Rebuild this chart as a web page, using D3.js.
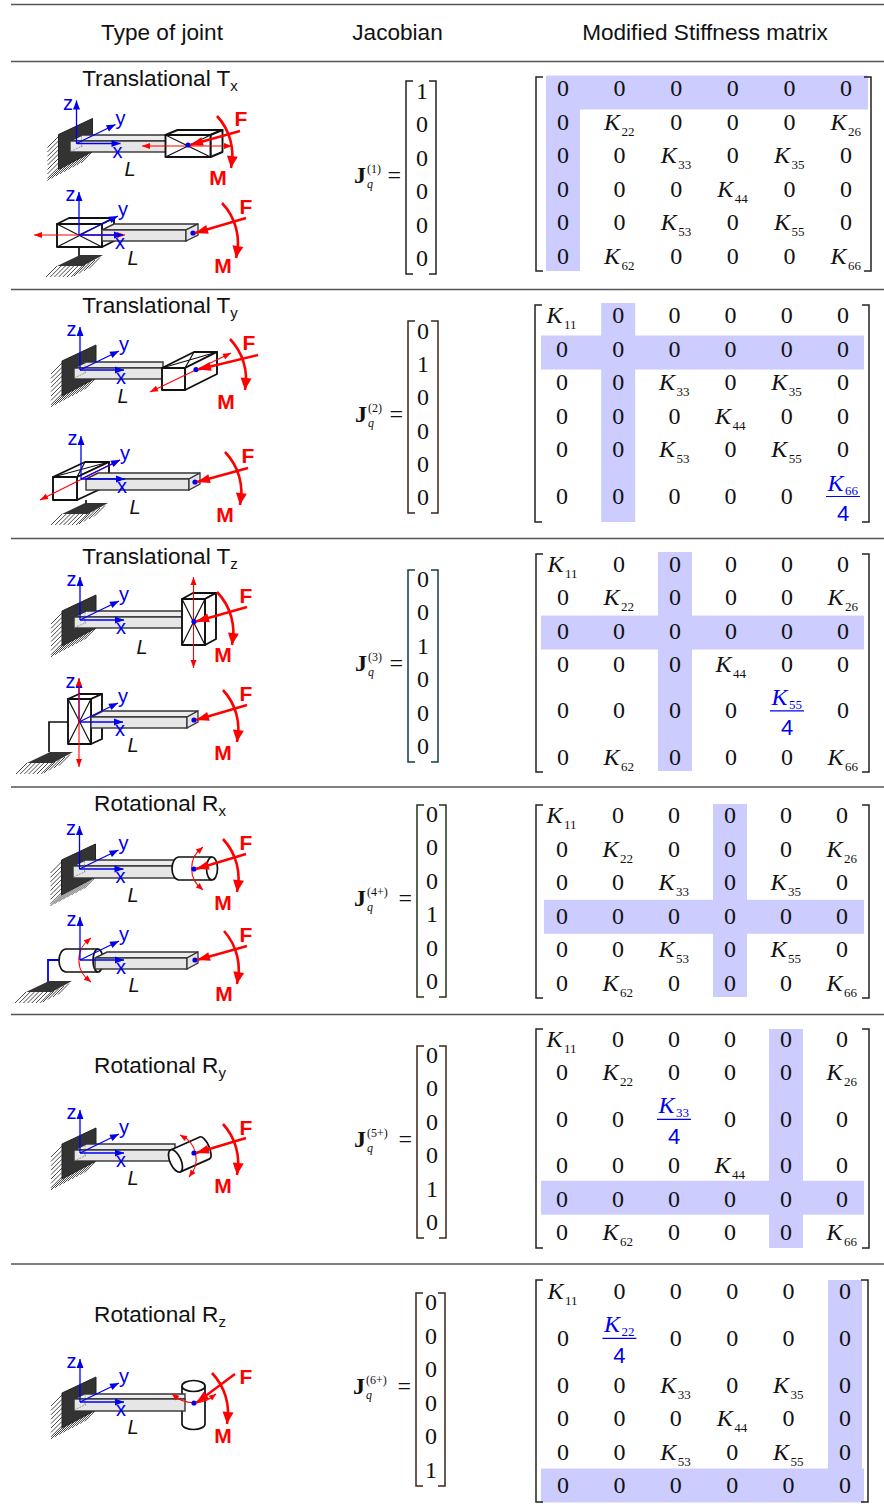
<!DOCTYPE html>
<html>
<head>
<meta charset="utf-8">
<script src="https://cdn.jsdelivr.net/npm/d3@7"></script>
<style>
  html, body { margin: 0; padding: 0; background: #fff; }
  svg { display: block; }
  text { fill: #111; }
  .head, .title { font-family: "Liberation Sans", Arial, sans-serif; font-size: 22.6px; }
  .math { font-family: "Liberation Serif", "Times New Roman", serif; font-size: 24px; }
  .small { font-family: "Liberation Serif", "Times New Roman", serif; font-size: 12px; }
  .blue { fill: #0000ee; }
  .lab { font-family: "Liberation Sans", Arial, sans-serif; }
</style>
</head>
<body>
<svg id="chart" width="884" height="1508"></svg>
<script>
// table content
var headers = ["Type of joint", "Jacobian", "Modified Stiffness matrix"];
var jointNames = ["Translational T", "Translational T", "Translational T", "Rotational R", "Rotational R", "Rotational R"];
var jointSubs = ["x", "y", "z", "x", "y", "z"];
var jacobianSups = ["(1)", "(2)", "(3)", "(4+)", "(5+)", "(6+)"];
var jacobians = [
  [1, 0, 0, 0, 0, 0],
  [0, 1, 0, 0, 0, 0],
  [0, 0, 1, 0, 0, 0],
  [0, 0, 0, 1, 0, 0],
  [0, 0, 0, 0, 1, 0],
  [0, 0, 0, 0, 0, 1]
];
var stiffness1 = [
  ["0", "0", "0", "0", "0", "0"],
  ["0", "K22", "0", "0", "0", "K26"],
  ["0", "0", "K33", "0", "K35", "0"],
  ["0", "0", "0", "K44", "0", "0"],
  ["0", "0", "K53", "0", "K55", "0"],
  ["0", "K62", "0", "0", "0", "K66"]
];
var stiffness2 = [
  ["K11", "0", "0", "0", "0", "0"],
  ["0", "0", "0", "0", "0", "0"],
  ["0", "0", "K33", "0", "K35", "0"],
  ["0", "0", "0", "K44", "0", "0"],
  ["0", "0", "K53", "0", "K55", "0"],
  ["0", "0", "0", "0", "0", "K66/4"]
];
var stiffness3 = [
  ["K11", "0", "0", "0", "0", "0"],
  ["0", "K22", "0", "0", "0", "K26"],
  ["0", "0", "0", "0", "0", "0"],
  ["0", "0", "0", "K44", "0", "0"],
  ["0", "0", "0", "0", "K55/4", "0"],
  ["0", "K62", "0", "0", "0", "K66"]
];
var stiffness4 = [
  ["K11", "0", "0", "0", "0", "0"],
  ["0", "K22", "0", "0", "0", "K26"],
  ["0", "0", "K33", "0", "K35", "0"],
  ["0", "0", "0", "0", "0", "0"],
  ["0", "0", "K53", "0", "K55", "0"],
  ["0", "K62", "0", "0", "0", "K66"]
];
var stiffness5 = [
  ["K11", "0", "0", "0", "0", "0"],
  ["0", "K22", "0", "0", "0", "K26"],
  ["0", "0", "K33/4", "0", "0", "0"],
  ["0", "0", "0", "K44", "0", "0"],
  ["0", "0", "0", "0", "0", "0"],
  ["0", "K62", "0", "0", "0", "K66"]
];
var stiffness6 = [
  ["K11", "0", "0", "0", "0", "0"],
  ["0", "K22/4", "0", "0", "0", "0"],
  ["0", "0", "K33", "0", "K35", "0"],
  ["0", "0", "0", "K44", "0", "0"],
  ["0", "0", "K53", "0", "K55", "0"],
  ["0", "0", "0", "0", "0", "0"]
];
var stiffness = [stiffness1, stiffness2, stiffness3, stiffness4, stiffness5, stiffness6];

// layout, kept apart from the values
var ruleYs = [4.5, 61.5, 289.5, 538.5, 787, 1014.5, 1264];
var titleYs = [86, 313, 564, 811, 1073, 1322];
var titleXs = [160, 160, 160, 160, 160, 160];
var matLayout = [
  {x: [563, 846], y: [89, 257], br: [536, 871, 77, 271], band: [547, 868], bandY: [76, 271], off: 3.5},
  {x: [562, 843], y: [316, 497], br: [535, 869, 305, 522], band: [541, 864], bandY: [303, 522], off: 3},
  {x: [563, 843], y: [565, 758], br: [536, 869, 554, 772], band: [541, 864], bandY: [552, 771], off: 1},
  {x: [562, 842], y: [816, 984], br: [536, 869, 805, 998], band: [544, 864], bandY: [804, 997], off: 0},
  {x: [562, 842], y: [1040, 1233], br: [536, 869, 1029, 1248], band: [541, 864], bandY: [1029, 1248], off: -2},
  {x: [563, 845], y: [1292, 1486], br: [536, 868, 1280, 1502], band: [541, 864], bandY: [1280, 1502], off: -0.5}
];
var vecLayout = [
  {x: 422, y: [92, 259], br: [406, 436, 81, 274], jx: 354, jy: 176, col: "#222"},
  {x: 423, y: [332, 498], br: [408, 438, 321, 513], jx: 355, jy: 415, col: "#3a2418"},
  {x: 423, y: [580, 747], br: [408, 438, 570, 762], jx: 355, jy: 664, col: "#123c44"},
  {x: 432, y: [815, 982], br: [417, 446, 805, 997], jx: 354, jy: 899, col: "#22331c"},
  {x: 432, y: [1056, 1223], br: [417, 446, 1046, 1238], jx: 354, jy: 1140, col: "#3a2418"},
  {x: 431, y: [1303, 1471], br: [416, 445, 1293, 1486], jx: 353, jy: 1387, col: "#3a2418"}
];

var RED = "#ff0000", BLUE = "#0000ee", DARK = "#111";

var svg = d3.select("#chart");
var gBands = svg.append("g");
var gRules = svg.append("g");
var gMath = svg.append("g");
var gDiag = svg.append("g");

gRules.selectAll("line").data(ruleYs).join("line")
  .attr("x1", 11).attr("x2", 884)
  .attr("y1", function(d) { return d; }).attr("y2", function(d) { return d; })
  .attr("stroke", "#555").attr("stroke-width", 1.3);

svg.selectAll("text.head").data(headers).join("text")
  .attr("class", "head")
  .attr("x", function(d, i) { return [162, 397.5, 705][i]; })
  .attr("y", 39.5)
  .attr("text-anchor", "middle")
  .text(function(d) { return d; });

jointNames.forEach(function(n, i) {
  var t = svg.append("text").attr("class", "title")
    .attr("x", titleXs[i]).attr("y", titleYs[i]).attr("text-anchor", "middle");
  t.append("tspan").text(n);
  t.append("tspan").style("font-size", "15px").attr("dy", 5).text(jointSubs[i]);
});

function bracket(g, b, col) {
  var w = 7;
  g.append("path")
    .attr("d", "M" + (b[0] + w) + "," + b[2] + "H" + b[0] + "V" + b[3] + "H" + (b[0] + w))
    .attr("fill", "none").attr("stroke", col).attr("stroke-width", 1.5);
  g.append("path")
    .attr("d", "M" + (b[1] - w) + "," + b[2] + "H" + b[1] + "V" + b[3] + "H" + (b[1] - w))
    .attr("fill", "none").attr("stroke", col).attr("stroke-width", 1.5);
}

function kTerm(g, x, y, s, blue, drop) {
  var t = g.append("text").attr("class", "math" + (blue ? " blue" : ""))
    .attr("x", x - 15.5).attr("y", y);
  t.append("tspan").attr("font-style", "italic").text("K");
  t.append("tspan").style("font-size", "13px").attr("dx", 1.5).attr("dy", drop).text(s);
}

function cell(g, x, y, s) {
  if (s.indexOf("/") > 0) {
    var p = s.split("/");
    kTerm(g, x, y - 6.5, p[0].slice(1), true, 4);
    g.append("line").attr("x1", x - 17).attr("x2", x + 17)
      .attr("y1", y - 0.5).attr("y2", y - 0.5)
      .attr("stroke", BLUE).attr("stroke-width", 1.2);
    g.append("text").attr("class", "lab blue").attr("font-size", 22)
      .attr("x", x).attr("y", y + 24).attr("text-anchor", "middle").text(p[1]);
  } else if (s.charAt(0) == "K") {
    kTerm(g, x, y + 7, s.slice(1), false, 6);
  } else {
    g.append("text").attr("class", "math")
      .attr("x", x).attr("y", y + 7).attr("text-anchor", "middle").text(s);
  }
}

// rows with a fraction get more room, so row positions come from these units
function rowUnits(m) {
  var u = [0];
  for (var r = 1; r < 6; r++) {
    var extra = 0;
    if (m[r - 1].join("").indexOf("/") > 0) extra += 0.4;
    if (m[r].join("").indexOf("/") > 0) extra += 0.4;
    u.push(u[r - 1] + 1 + extra);
  }
  return u;
}

stiffness.forEach(function(m, i) {
  var L = matLayout[i];
  var x = d3.scaleLinear().domain([0, 5]).range(L.x);
  var units = rowUnits(m);
  var y = d3.scaleLinear().domain([0, units[5]]).range(L.y);
  var k = jacobians[i].indexOf(1);

  gBands.append("rect").attr("x", L.band[0]).attr("width", L.band[1] - L.band[0])
    .attr("y", y(units[k]) - 17 + L.off).attr("height", 34).attr("fill", "#ccccff");
  gBands.append("rect").attr("x", x(k) - 17).attr("width", 34)
    .attr("y", L.bandY[0]).attr("height", L.bandY[1] - L.bandY[0]).attr("fill", "#ccccff");

  m.forEach(function(row, r) {
    row.forEach(function(s, c) {
      cell(gMath, x(c), y(units[r]), s);
    });
  });
  bracket(gMath, L.br, "#222");
});

jacobians.forEach(function(v, i) {
  var L = vecLayout[i];
  var y = d3.scaleLinear().domain([0, 5]).range(L.y);
  v.forEach(function(d, r) {
    gMath.append("text").attr("class", "math").attr("x", L.x).attr("y", y(r) + 7)
      .attr("text-anchor", "middle").text(d);
  });
  bracket(gMath, L.br, L.col);

  gMath.append("text").attr("class", "math").attr("font-weight", "bold")
    .attr("x", L.jx).attr("y", L.jy + 7).text("J");
  gMath.append("text").attr("class", "small")
    .attr("x", L.jx + 13).attr("y", L.jy - 3).text(jacobianSups[i]);
  gMath.append("text").attr("class", "small").attr("font-style", "italic")
    .attr("x", L.jx + 13).attr("y", L.jy + 12).text("q");
  gMath.append("text").attr("class", "math")
    .attr("x", L.br[0] - 5).attr("y", L.jy + 7).attr("text-anchor", "end").text("=");
});

// ---- joint sketches ----

function head(g, x1, y1, x2, y2, len, wid, col) {
  var a = Math.atan2(y2 - y1, x2 - x1), c = Math.cos(a), s = Math.sin(a);
  var bx = x2 - c * len, by = y2 - s * len;
  g.append("polygon")
    .attr("points", [[x2, y2], [bx - s * wid, by + c * wid], [bx + s * wid, by - c * wid]].join(" "))
    .attr("fill", col);
}

function arrow(g, x1, y1, x2, y2, col, w, len, wid) {
  g.append("line").attr("x1", x1).attr("y1", y1).attr("x2", x2).attr("y2", y2)
    .attr("stroke", col).attr("stroke-width", w);
  head(g, x1, y1, x2, y2, len, wid, col);
}

function twoWay(g, x1, y1, x2, y2) {
  arrow(g, (x1 + x2) / 2, (y1 + y2) / 2, x2, y2, RED, 1.1, 8, 3);
  arrow(g, (x1 + x2) / 2, (y1 + y2) / 2, x1, y1, RED, 1.1, 8, 3);
}

// curved arrow, head follows the end of the path
function curved(g, a, b, r, sweep, col, w, len, wid, both) {
  var p = g.append("path")
    .attr("d", "M" + a + "A" + r + "," + r + " 0 0 " + sweep + " " + b)
    .attr("fill", "none").attr("stroke", col).attr("stroke-width", w);
  var n = p.node(), tot = n.getTotalLength();
  var e = n.getPointAtLength(tot - len);
  var e2 = n.getPointAtLength(tot);
  head(g, e.x, e.y, e2.x, e2.y, len, wid, col);
  if (both) {
    var s = n.getPointAtLength(len);
    var s2 = n.getPointAtLength(0);
    head(g, s.x, s.y, s2.x, s2.y, len, wid, col);
  }
}

function hatch(g, pts) {
  pts.forEach(function(p) {
    g.append("line").attr("x1", p[0]).attr("y1", p[1]).attr("x2", p[0] - 11).attr("y2", p[1] + 11)
      .attr("stroke", "#333").attr("stroke-width", 0.9);
  });
}

function wall(g, ox, oy) {
  var left = d3.range(-7, 26, 4.4).map(function(d) { return [ox - 18, oy + d]; });
  var low = d3.range(0, 34, 4.2).map(function(d) { return [ox - 18 + d, oy + 26 - d * 0.52]; });
  hatch(g, left);
  hatch(g, low);
  g.append("polygon")
    .attr("points", [[ox - 18, oy - 9], [ox + 16, oy - 25], [ox + 16, oy + 8], [ox - 18, oy + 26]].join(" "))
    .attr("fill", "#333").attr("stroke", "#222");
}

function ground(g, cx, y) {
  var low = d3.range(0, 28, 4.2).map(function(d) { return [cx - 22 + d, y + 11]; });
  var side = d3.range(0, 20, 5).map(function(d) { return [cx + 6 + d, y + 10 - d * 0.5]; });
  hatch(g, low);
  hatch(g, side);
  g.append("polygon")
    .attr("points", [[cx - 22, y + 11], [cx + 1, y], [cx + 24, y], [cx + 4, y + 11]].join(" "))
    .attr("fill", "#333");
}

function beam(g, x0, x1, top, ftop, bot, depth) {
  var d = ftop - top;
  g.append("polygon")
    .attr("points", [[x0, ftop], [x0 + d * 2, top], [x1 + depth, top], [x1, ftop]].join(" "))
    .attr("fill", "#ececec").attr("stroke", "#333").attr("stroke-width", 1.4);
  g.append("rect").attr("x", x0).attr("y", ftop).attr("width", x1 - x0).attr("height", bot - ftop)
    .attr("fill", "#e6e6e6").attr("stroke", "#333").attr("stroke-width", 1.4);
  if (depth) {
    g.append("polygon")
      .attr("points", [[x1, ftop], [x1 + depth, top], [x1 + depth, top + bot - ftop], [x1, bot]].join(" "))
      .attr("fill", "#e6e6e6").attr("stroke", "#333").attr("stroke-width", 1.3);
  }
}

function innerCube(g, ox, oy) {
  g.append("path")
    .attr("d", "M" + (ox - 6) + "," + (oy + 8) + "L" + (ox + 5) + "," + (oy + 3) + "V" + (oy - 8) + "M" + (ox + 5) + "," + (oy + 3) + "H" + (ox + 6))
    .attr("fill", "none").attr("stroke", "#777").attr("stroke-width", 0.7).attr("stroke-dasharray", "2,1");
}

// cross: "front" or "top" face carries the X
function box(g, x, y, w, h, dx, dy, cross) {
  var st = function(s) { return s.attr("stroke", DARK).attr("stroke-width", 1.9).attr("stroke-linejoin", "round"); };
  st(g.append("polygon")
    .attr("points", [[x, y], [x + dx, y + dy], [x + w + dx, y + dy], [x + w, y]].join(" "))).attr("fill", "#fff");
  st(g.append("polygon")
    .attr("points", [[x + w, y], [x + w + dx, y + dy], [x + w + dx, y + h + dy], [x + w, y + h]].join(" "))).attr("fill", "#fff");
  st(g.append("rect").attr("x", x).attr("y", y).attr("width", w).attr("height", h)).attr("fill", "#fff");
  if (cross == "front") {
    st(g.append("path").attr("d", "M" + x + "," + y + "L" + (x + w) + "," + (y + h) + "M" + (x + w) + "," + y + "L" + x + "," + (y + h)).attr("fill", "none")).attr("stroke-width", 1.2);
  } else {
    st(g.append("path").attr("d", "M" + x + "," + y + "L" + (x + w + dx) + "," + (y + dy) + "M" + (x + w) + "," + y + "L" + (x + dx) + "," + (y + dy)).attr("fill", "none")).attr("stroke-width", 1.2);
  }
}

function frame(g, ox, oy) {
  arrow(g, ox, oy, ox, oy - 43, BLUE, 1.3, 9, 3.5);
  arrow(g, ox, oy, ox + 39, oy - 19, BLUE, 1.3, 9, 3.5);
  arrow(g, ox, oy, ox + 44, oy, BLUE, 1.3, 9, 3.5);
  var txt = function(s, x, y) {
    g.append("text").attr("class", "lab").style("fill", BLUE).attr("font-size", 20)
      .attr("x", x).attr("y", y).attr("text-anchor", "middle").text(s);
  };
  txt("z", ox - 8.5, oy - 34);
  txt("y", ox + 44, oy - 19);
  txt("x", ox + 41, oy + 14);
}

function loads(g, dot, ftail, fLab, mA, mB, mR, mLab, lLab) {
  g.append("circle").attr("cx", dot[0]).attr("cy", dot[1]).attr("r", 2.6).attr("fill", BLUE);
  arrow(g, ftail[0], ftail[1], dot[0] + 2, dot[1], RED, 2.4, 13, 4.5);
  curved(g, mA, mB, mR, 1, RED, 2.6, 12, 5.5);
  var red = function(s, p) {
    g.append("text").attr("class", "lab").style("fill", RED).attr("font-size", 21).attr("font-weight", "bold")
      .attr("x", p[0]).attr("y", p[1]).attr("text-anchor", "middle").text(s);
  };
  red("F", fLab);
  red("M", mLab);
  g.append("text").attr("class", "lab").attr("font-size", 20).attr("font-style", "italic")
    .attr("x", lLab[0]).attr("y", lLab[1]).attr("text-anchor", "middle").text("L");
}

function stem(g, d) {
  g.append("path").attr("d", d).attr("fill", "none").attr("stroke", DARK).attr("stroke-width", 1.7);
}

var g;

// Tx, moving part at the tip
g = gDiag.append("g");
wall(g, 76.5, 143.5);
beam(g, 70, 166, 135, 141, 152, 0);
innerCube(g, 76.5, 143.5);
box(g, 165.5, 135, 45, 22, 12, -5, "front");
twoWay(g, 142, 146, 232, 146);
frame(g, 76.5, 143.5);
loads(g, [188, 145], [240, 131], [241, 126], [217, 116], [231, 168], 58, [218, 185], [130, 176]);

// Tx, at the base
g = gDiag.append("g");
stem(g, "M79,247V256");
ground(g, 79, 255);
box(g, 57, 224, 45, 23, 12, -6, "front");
beam(g, 102, 186, 224, 230, 241, 12);
twoWay(g, 34, 235, 125, 235);
frame(g, 79, 235);
loads(g, [193, 233], [246, 218], [246, 214], [222, 203], [236, 258], 58, [223, 273], [133, 265]);

// Ty, tip
g = gDiag.append("g");
wall(g, 80, 370);
beam(g, 74, 163, 362, 368, 379, 0);
innerCube(g, 80, 370);
box(g, 162, 368, 23, 22, 32, -16, "top");
twoWay(g, 150, 392, 231, 353);
frame(g, 80, 370);
loads(g, [196, 369.5], [258, 355], [249, 350], [230, 339], [245, 390], 58, [226, 409], [123, 403]);

// Ty, base
g = gDiag.append("g");
stem(g, "M86,500V511");
ground(g, 84, 503);
box(g, 53, 477, 24, 23, 32, -15, "top");
beam(g, 86, 189, 473, 479, 490, 11);
twoWay(g, 40, 500, 120, 460);
frame(g, 81, 479);
loads(g, [195, 482], [248, 468], [248, 463], [225, 452], [240, 505], 58, [225, 522], [135, 514]);

// Tz, tip
g = gDiag.append("g");
wall(g, 80, 620);
beam(g, 74, 183, 611, 617, 628, 0);
innerCube(g, 80, 620);
box(g, 182, 599, 23, 46, 11, -6, "front");
twoWay(g, 193.5, 577, 193.5, 668);
frame(g, 80, 620);
loads(g, [194, 621.5], [247, 607], [246, 603], [217, 592], [232, 645], 58, [223, 662], [142, 654]);

// Tz, base
g = gDiag.append("g");
stem(g, "M68,722H49V752");
ground(g, 49, 752);
box(g, 68, 699, 23, 45, 11, -5, "front");
beam(g, 91, 187, 711, 717, 728, 11);
frame(g, 79, 722);
twoWay(g, 79, 678, 79, 767);
loads(g, [194, 720], [247, 705], [246, 701], [223, 690], [237, 742], 58, [223, 760], [133, 752]);

// Rx, tip
g = gDiag.append("g");
wall(g, 79.5, 869);
beam(g, 73, 176, 860, 866, 878, 0);
innerCube(g, 79.5, 869);
g.append("path").attr("d", "M212,857H179A7,11.5 0 0 0 179,880H212")
  .attr("fill", "#fff").attr("stroke", DARK).attr("stroke-width", 1.7);
g.append("ellipse").attr("cx", 212).attr("cy", 868.5).attr("rx", 5.5).attr("ry", 11.5)
  .attr("fill", "#fff").attr("stroke", DARK).attr("stroke-width", 1.7);
curved(g, [203, 847], [203, 890], 26, 0, RED, 1.1, 7, 3, true);
frame(g, 79.5, 869);
loads(g, [194, 869], [246, 854], [246, 850], [223, 839], [237, 892], 58, [223, 910], [133, 902]);

// Rx, base
g = gDiag.append("g");
g.append("path").attr("d", "M59,960H48V985").attr("fill", "none").attr("stroke", BLUE).attr("stroke-width", 1.8);
ground(g, 48, 981);
g.append("path").attr("d", "M98,949H66A7,11.5 0 0 0 66,972H98")
  .attr("fill", "#fff").attr("stroke", DARK).attr("stroke-width", 1.7);
g.append("ellipse").attr("cx", 98).attr("cy", 960.5).attr("rx", 5).attr("ry", 11.5)
  .attr("fill", "#fff").attr("stroke", DARK).attr("stroke-width", 1.7);
beam(g, 95, 187, 952, 958, 969, 11);
curved(g, [91, 938], [91, 982], 26, 0, RED, 1.1, 7, 3, true);
frame(g, 80, 960);
loads(g, [195, 960], [247, 946], [246, 942], [224, 931], [237, 984], 58, [224, 1001], [134, 992]);

// Ry
g = gDiag.append("g");
wall(g, 80, 1153);
beam(g, 74, 175, 1144, 1150, 1161, 0);
innerCube(g, 80, 1153);
var cyl = g.append("g").attr("transform", "translate(191,1154) rotate(-24)");
cyl.append("path").attr("d", "M-17,-12H15A4.5,12 0 0 1 15,12H-17")
  .attr("fill", "#fff").attr("stroke", DARK).attr("stroke-width", 1.7);
cyl.append("ellipse").attr("cx", -17).attr("cy", 0).attr("rx", 5.5).attr("ry", 12)
  .attr("fill", "#fff").attr("stroke", DARK).attr("stroke-width", 1.7);
curved(g, [180, 1135], [189, 1177], 26, 1, RED, 1.1, 7, 3, true);
frame(g, 80, 1153);
loads(g, [194, 1153], [246, 1138], [246, 1135], [223, 1124], [237, 1175], 58, [223, 1193], [133, 1185]);

// Rz
g = gDiag.append("g");
wall(g, 80, 1402);
g.append("path").attr("d", "M182,1386V1424A11.5,5.5 0 0 0 205,1424V1386")
  .attr("fill", "#fff").attr("stroke", DARK).attr("stroke-width", 1.7);
g.append("ellipse").attr("cx", 193.5).attr("cy", 1386).attr("rx", 11.5).attr("ry", 5.5)
  .attr("fill", "#fff").attr("stroke", DARK).attr("stroke-width", 1.7);
beam(g, 74, 185, 1394, 1399, 1411, 0);
innerCube(g, 80, 1402);
curved(g, [172, 1394], [216, 1394], 32, 0, RED, 1.1, 7, 3, true);
frame(g, 80, 1402);
loads(g, [194, 1403], [235, 1374], [246, 1384], [212, 1373], [227, 1424], 58, [223, 1443], [133, 1434]);
</script>
</body>
</html>
